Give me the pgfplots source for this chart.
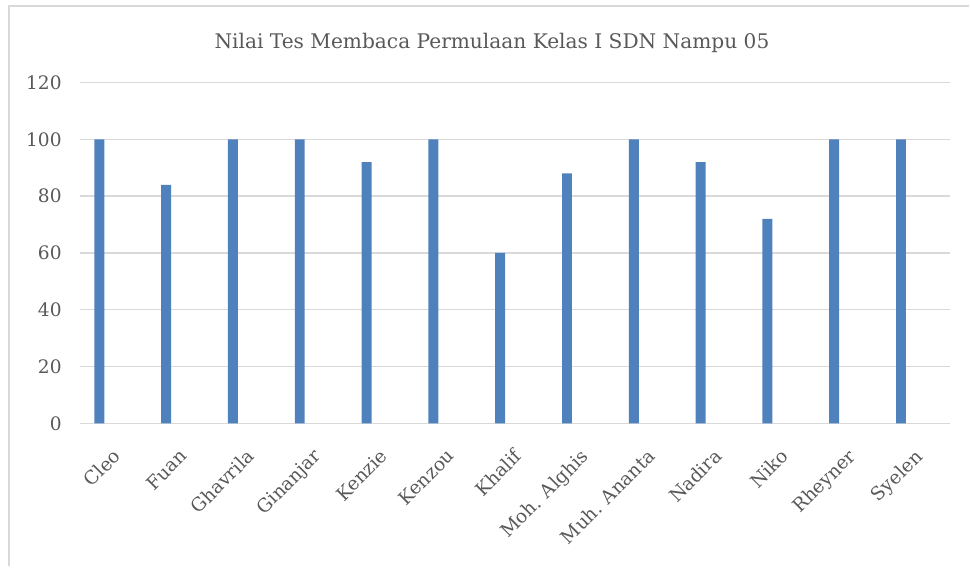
\documentclass[border=0pt]{standalone}
\usepackage{pgfplots}
\pgfplotsset{compat=1.18}
\usepackage{fontspec}
\setmainfont{DejaVu Serif}
\definecolor{barblue}{HTML}{4F81BD}
\definecolor{gridgray}{HTML}{D9D9D9}
\definecolor{txtgray}{HTML}{595959}
\begin{document}
\begin{tikzpicture}[x=0.75pt,y=0.75pt]
\path (0,0) rectangle (970,570);
\draw[gridgray,line width=1.5pt] (9,0) -- (9,564) -- (975,564);
\node[txtgray,font=\fontsize{15.2}{18}\selectfont] at (495,527) {Nilai Tes Membaca Permulaan Kelas I SDN Nampu 05};
\begin{axis}[
  at={(60pt,108pt)}, anchor=south west,
  scale only axis, width=657pt, height=257.25pt,
  xmin=-0.297, xmax=12.735, ymin=0, ymax=120,
  ytick={0,20,...,120},
  xtick={0,...,12},
  xticklabels={Cleo,Fuan,Ghavrila,Ginanjar,Kenzie,Kenzou,Khalif,Moh. Alghis,Muh. Ananta,Nadira,Niko,Rheyner,Syelen},
  xticklabel style={rotate=45, anchor=north east, font=\fontsize{14}{17}\selectfont, text=txtgray, xshift=-2.9pt, yshift=-16.2pt},
  yticklabel style={font=\fontsize{14}{17}\selectfont, text=txtgray, xshift=-10pt},
  /pgf/number format/assume math mode=true,
  major tick length=0pt,
  axis line style={draw=none},
  ymajorgrids, grid style={gridgray, line width=1pt},
  ybar, bar width=7.5pt,
]
\addplot[fill=barblue, draw=none] coordinates {
(0,100) (1,84) (2,100) (3,100) (4,92) (5,100) (6,60) (7,88) (8,100) (9,92) (10,72) (11,100) (12,100)};
\end{axis}
\end{tikzpicture}
\end{document}
